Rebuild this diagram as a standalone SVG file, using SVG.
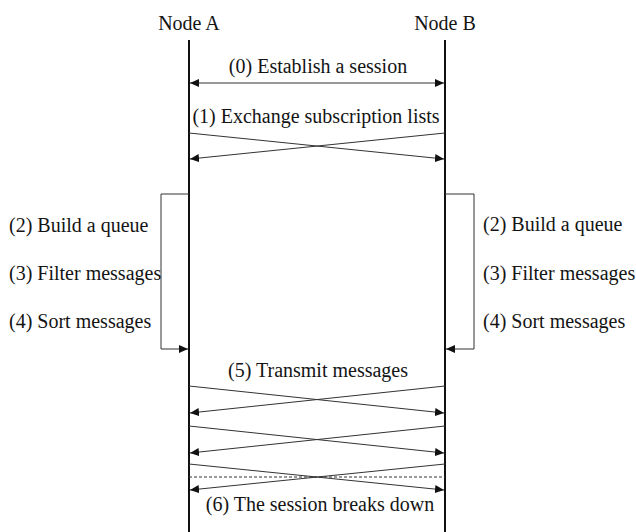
<svg xmlns="http://www.w3.org/2000/svg" width="636" height="532" viewBox="0 0 636 532">
<style>
.t{font-family:'Liberation Serif',Tinos,'Times New Roman',Times,serif;font-size:20px;fill:#141414}
.life{stroke:#111;stroke-width:2;fill:none}
.msg{stroke:#333;stroke-width:1;fill:none}
.ar{marker-end:url(#ah)}
.dash{stroke:#333;stroke-width:1;stroke-dasharray:3,2;fill:none}
.mid{text-anchor:middle}
</style>
<defs>
<marker id="ah" markerWidth="9" markerHeight="8" refX="9" refY="4" orient="auto" markerUnits="userSpaceOnUse">
<path d="M0,0 L9,4 L0,8 Z" fill="#111"/>
</marker>
</defs>
<rect width="636" height="532" fill="#fff"/>
<g id="nodeA">
<text class="t mid" x="189" y="30">Node A</text>
<line class="life" x1="189" y1="40" x2="189" y2="532"/>
</g>
<g id="nodeB">
<text class="t mid" x="445" y="30">Node B</text>
<line class="life" x1="445" y1="40" x2="445" y2="532"/>
</g>
<g id="labels">
<text class="t mid" x="318" y="73">(0) Establish a session</text>
<text class="t mid" x="316" y="123">(1) Exchange subscription lists</text>
<text class="t" x="9" y="232">(2) Build a queue</text>
<text class="t" x="9" y="280">(3) Filter messages</text>
<text class="t" x="9" y="328">(4) Sort messages</text>
<text class="t" x="483" y="231">(2) Build a queue</text>
<text class="t" x="483" y="280">(3) Filter messages</text>
<text class="t" x="483" y="328">(4) Sort messages</text>
<text class="t mid" x="318" y="377">(5) Transmit messages</text>
<text class="t mid" x="320" y="511">(6) The session breaks down</text>
</g>
<g id="connectors">
<line class="msg ar" x1="260" y1="83" x2="190" y2="83"/>
<line class="msg ar" x1="260" y1="83" x2="444" y2="83"/>
<line class="msg ar" x1="189" y1="133" x2="444" y2="159"/>
<line class="msg ar" x1="445" y1="133" x2="190" y2="159"/>
<path class="msg ar" d="M189,194 H161 V349 H188"/>
<path class="msg ar" d="M445,194 H474 V349 H446"/>
<line class="msg ar" x1="189" y1="386" x2="444" y2="413"/>
<line class="msg ar" x1="445" y1="386" x2="190" y2="413"/>
<line class="msg ar" x1="189" y1="426" x2="444" y2="453"/>
<line class="msg ar" x1="445" y1="426" x2="190" y2="453"/>
<line class="msg ar" x1="189" y1="464" x2="444" y2="490"/>
<line class="msg ar" x1="445" y1="464" x2="190" y2="490"/>
<line class="dash" x1="189" y1="477" x2="445" y2="477"/>
</g>
</svg>
